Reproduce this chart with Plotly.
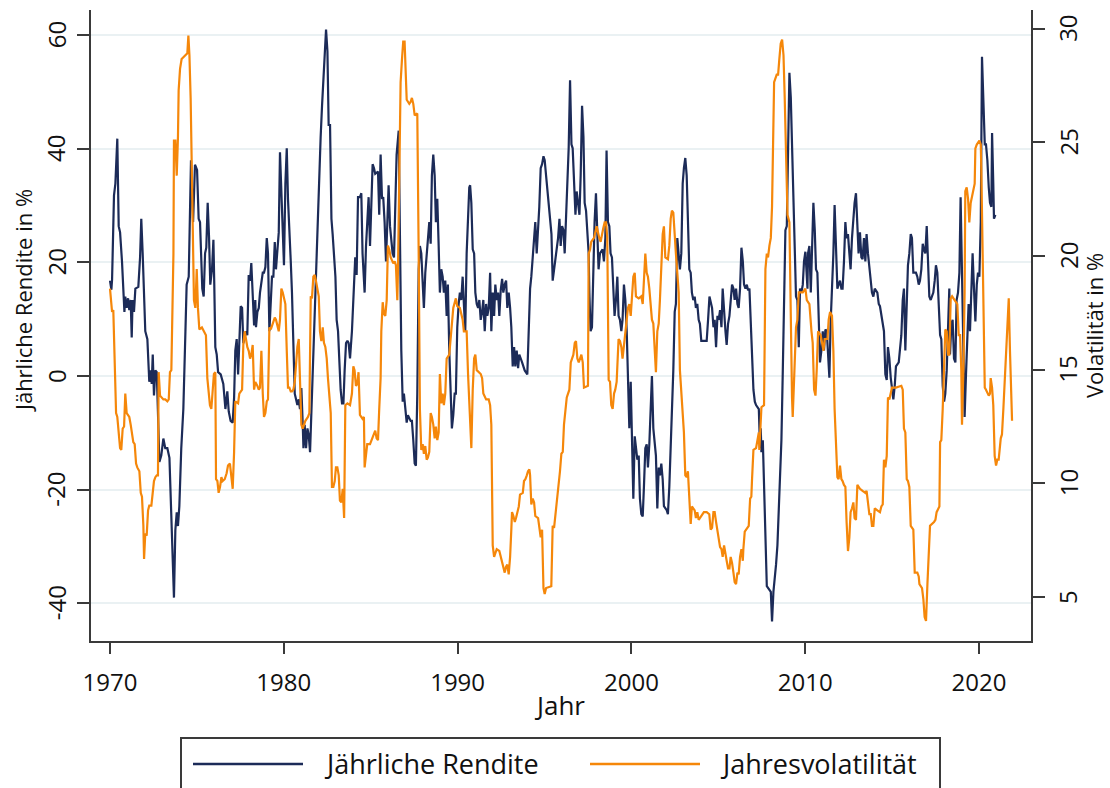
import plotly.graph_objects as go

# Jährliche Rendite (in %), Monatswerte als Dezimaljahr
rendite_jahr = [
    1970.00, 1970.08, 1970.12, 1970.23, 1970.31, 1970.42, 1970.50, 1970.58, 1970.69, 1970.77,
    1970.83, 1970.88, 1970.96, 1971.04, 1971.11, 1971.19, 1971.25, 1971.30, 1971.38, 1971.46,
    1971.63, 1971.73, 1971.80, 1971.88, 1971.96, 1972.03, 1972.15, 1972.26, 1972.34, 1972.40,
    1972.46, 1972.53, 1972.61, 1972.69, 1972.76, 1972.84, 1972.95, 1973.07, 1973.18, 1973.30,
    1973.42, 1973.53, 1973.61, 1973.68, 1973.76, 1973.84, 1973.91, 1973.99, 1974.10, 1974.22,
    1974.34, 1974.41, 1974.53, 1974.60, 1974.66, 1974.78, 1974.89, 1975.01, 1975.10, 1975.18,
    1975.24, 1975.31, 1975.39, 1975.47, 1975.54, 1975.62, 1975.70, 1975.77, 1975.87, 1975.95,
    1976.00, 1976.06, 1976.14, 1976.22, 1976.37, 1976.52, 1976.64, 1976.75, 1976.83, 1976.90,
    1976.94, 1977.06, 1977.14, 1977.21, 1977.29, 1977.37, 1977.44, 1977.52, 1977.60, 1977.67,
    1977.83, 1977.90, 1977.98, 1978.06, 1978.13, 1978.21, 1978.29, 1978.36, 1978.40, 1978.48,
    1978.56, 1978.63, 1978.71, 1978.79, 1978.86, 1978.94, 1979.02, 1979.09, 1979.17, 1979.25,
    1979.32, 1979.40, 1979.48, 1979.55, 1979.63, 1979.71, 1979.78, 1979.86, 1979.94, 1980.01,
    1980.09, 1980.17, 1980.24, 1980.32, 1980.40, 1980.47, 1980.55, 1980.63, 1980.78, 1980.86,
    1980.93, 1981.01, 1981.09, 1981.13, 1981.20, 1981.28, 1981.36, 1981.43, 1981.51, 1981.59,
    1981.66, 1981.74, 1981.82, 1981.89, 1981.97, 1982.05, 1982.12, 1982.20, 1982.28, 1982.35,
    1982.43, 1982.51, 1982.58, 1982.66, 1982.74, 1982.81, 1982.89, 1982.97, 1983.04, 1983.12,
    1983.20, 1983.27, 1983.35, 1983.43, 1983.50, 1983.58, 1983.66, 1983.73, 1983.81, 1983.92,
    1984.04, 1984.11, 1984.19, 1984.27, 1984.38, 1984.46, 1984.53, 1984.65, 1984.73, 1984.80,
    1984.88, 1984.96, 1985.03, 1985.11, 1985.19, 1985.26, 1985.42, 1985.49, 1985.57, 1985.65,
    1985.72, 1985.80, 1985.88, 1985.95, 1986.03, 1986.11, 1986.26, 1986.34, 1986.41, 1986.49,
    1986.61, 1986.64, 1986.68, 1986.76, 1986.84, 1986.91, 1987.07, 1987.14, 1987.30, 1987.37,
    1987.45, 1987.53, 1987.60, 1987.68, 1987.76, 1987.83, 1987.91, 1987.99, 1988.06, 1988.14,
    1988.22, 1988.29, 1988.37, 1988.45, 1988.52, 1988.60, 1988.68, 1988.75, 1988.83, 1988.91,
    1988.98, 1989.06, 1989.14, 1989.21, 1989.29, 1989.37, 1989.44, 1989.52, 1989.60, 1989.67,
    1989.75, 1989.83, 1989.90, 1989.98, 1990.06, 1990.13, 1990.21, 1990.29, 1990.36, 1990.44,
    1990.52, 1990.60, 1990.67, 1990.72, 1990.79, 1990.87, 1990.95, 1991.02, 1991.10, 1991.18,
    1991.25, 1991.33, 1991.41, 1991.48, 1991.56, 1991.64, 1991.71, 1991.79, 1991.87, 1991.94,
    1992.02, 1992.10, 1992.17, 1992.25, 1992.33, 1992.40, 1992.48, 1992.56, 1992.63, 1992.71,
    1992.79, 1992.86, 1992.94, 1993.02, 1993.09, 1993.17, 1993.25, 1993.32, 1993.40, 1993.48,
    1993.55, 1993.71, 1993.86, 1994.01, 1994.09, 1994.17, 1994.24, 1994.32, 1994.40, 1994.47,
    1994.55, 1994.63, 1994.70, 1994.78, 1994.86, 1994.94, 1995.01, 1995.09, 1995.17, 1995.24,
    1995.32, 1995.40, 1995.47, 1995.55, 1995.63, 1995.70, 1995.78, 1995.86, 1995.93, 1996.01,
    1996.09, 1996.16, 1996.24, 1996.32, 1996.39, 1996.47, 1996.55, 1996.62, 1996.70, 1996.78,
    1996.85, 1997.01, 1997.08, 1997.16, 1997.24, 1997.31, 1997.39, 1997.47, 1997.54, 1997.58,
    1997.65, 1997.73, 1997.81, 1997.88, 1997.96, 1998.04, 1998.11, 1998.19, 1998.34, 1998.42,
    1998.50, 1998.57, 1998.65, 1998.73, 1998.80, 1998.88, 1998.96, 1999.03, 1999.11, 1999.19,
    1999.26, 1999.34, 1999.42, 1999.49, 1999.57, 1999.65, 1999.73, 1999.80, 1999.88, 1999.96,
    2000.03, 2000.11, 2000.19, 2000.26, 2000.34, 2000.42, 2000.49, 2000.57, 2000.65, 2000.72,
    2000.80, 2000.88, 2000.95, 2001.03, 2001.11, 2001.18, 2001.26, 2001.34, 2001.41, 2001.49,
    2001.57, 2001.64, 2001.72, 2001.80, 2001.87, 2002.03, 2002.10, 2002.18, 2002.26, 2002.33,
    2002.41, 2002.49, 2002.56, 2002.64, 2002.72, 2002.79, 2002.87, 2002.95, 2003.02, 2003.10,
    2003.18, 2003.25, 2003.33, 2003.41, 2003.48, 2003.56, 2003.64, 2003.71, 2003.79, 2003.87,
    2003.94, 2004.02, 2004.33, 2004.41, 2004.49, 2004.64, 2004.72, 2004.79, 2004.87, 2004.95,
    2005.02, 2005.10, 2005.18, 2005.25, 2005.33, 2005.41, 2005.48, 2005.56, 2005.64, 2005.71,
    2005.79, 2005.87, 2005.94, 2006.02, 2006.10, 2006.17, 2006.25, 2006.33, 2006.41, 2006.48,
    2006.56, 2006.64, 2006.71, 2006.79, 2006.87, 2006.94, 2007.02, 2007.10, 2007.17, 2007.33,
    2007.40, 2007.44, 2007.48, 2007.56, 2007.63, 2007.71, 2007.79, 2008.02, 2008.09, 2008.17,
    2008.25, 2008.32, 2008.40, 2008.48, 2008.55, 2008.63, 2008.71, 2008.78, 2008.86, 2008.94,
    2009.01, 2009.09, 2009.17, 2009.24, 2009.32, 2009.40, 2009.47, 2009.55, 2009.63, 2009.70,
    2009.78, 2009.86, 2009.93, 2010.01, 2010.13, 2010.16, 2010.24, 2010.32, 2010.39, 2010.47,
    2010.55, 2010.62, 2010.70, 2010.78, 2010.85, 2010.93, 2011.01, 2011.08, 2011.16, 2011.24,
    2011.31, 2011.39, 2011.46, 2011.54, 2011.62, 2011.69, 2011.77, 2011.85, 2011.92, 2012.00,
    2012.08, 2012.15, 2012.23, 2012.31, 2012.38, 2012.46, 2012.54, 2012.61, 2012.69, 2012.77,
    2012.84, 2012.92, 2013.00, 2013.07, 2013.15, 2013.23, 2013.30, 2013.38, 2013.46, 2013.53,
    2013.61, 2013.69, 2013.77, 2013.84, 2013.92, 2014.00, 2014.15, 2014.23, 2014.30, 2014.38,
    2014.46, 2014.53, 2014.61, 2014.69, 2014.76, 2014.84, 2014.92, 2014.99, 2015.07, 2015.15,
    2015.22, 2015.38, 2015.45, 2015.53, 2015.61, 2015.68, 2015.76, 2015.84, 2015.91, 2015.99,
    2016.07, 2016.14, 2016.22, 2016.37, 2016.45, 2016.53, 2016.60, 2016.68, 2016.76, 2016.83,
    2016.91, 2016.99, 2017.06, 2017.14, 2017.22, 2017.37, 2017.45, 2017.52, 2017.60, 2017.68,
    2017.76, 2017.83, 2017.91, 2017.99, 2018.06, 2018.14, 2018.22, 2018.29, 2018.33, 2018.41,
    2018.48, 2018.56, 2018.64, 2018.71, 2018.79, 2018.87, 2018.94, 2019.02, 2019.10, 2019.17,
    2019.25, 2019.33, 2019.40, 2019.48, 2019.56, 2019.63, 2019.71, 2019.79, 2019.87, 2019.94,
    2020.02, 2020.10, 2020.17, 2020.25, 2020.33, 2020.40, 2020.48, 2020.56, 2020.63, 2020.71,
    2020.75, 2020.82, 2020.86, 2020.94,
]
rendite = [
    16.8, 15.2, 17.0, 31.8, 33.9, 41.8, 26.4, 25.3, 20.2, 14.7,
    11.3, 14.0, 12.0, 13.7, 11.6, 13.4, 6.8, 13.4, 11.3, 15.4,
    15.7, 20.9, 27.7, 21.6, 15.4, 7.9, 6.5, -1.0, 1.0, -1.4,
    3.8, -3.4, 1.0, 0.7, -6.5, -15.1, -14.0, -11.0, -12.7, -12.7,
    -14.4, -24.3, -29.8, -39.0, -27.1, -24.0, -26.4, -22.9, -12.7, -5.8,
    7.9, 16.1, 17.5, 27.1, 38.0, 27.1, 37.2, 36.3, 27.7, 27.1,
    20.9, 15.4, 14.0, 21.6, 22.6, 30.5, 24.3, 16.1, 18.8, 24.0,
    16.1, 5.1, 3.8, 0.7, 0.3, -1.4, -5.8, -2.7, -6.2, -7.2,
    -7.9, -8.2, -3.8, 4.5, 6.5, 0.3, 6.5, 12.3, 12.0, 5.8,
    7.9, 7.2, 17.8, 16.8, 19.9, 14.7, 8.9, 13.4, 8.6, 11.3,
    12.0, 14.7, 16.1, 18.2, 18.2, 19.2, 24.3, 21.6, 7.9, 12.7,
    17.5, 17.5, 23.6, 18.8, 21.6, 25.3, 39.4, 31.8, 24.3, 19.5,
    33.9, 40.1, 31.2, 26.4, 20.2, 14.7, 6.5, -3.1, -5.1, -4.1,
    -5.8, -2.1, -8.6, -12.7, -8.6, -12.7, -9.2, -10.3, -13.4, -5.8,
    1.0, 7.9, 14.7, 21.6, 29.8, 36.6, 42.1, 47.6, 52.4, 58.6,
    61.0, 57.2, 44.2, 44.2, 27.7, 25.0, 20.9, 17.5, 9.9, 7.9,
    2.4, -2.4, -4.8, -4.8, 1.0, 5.8, 6.2, 5.8, 3.1, 7.9,
    16.1, 20.9, 17.8, 31.5, 31.5, 32.2, 21.6, 14.7, 22.9, 27.1,
    31.5, 22.9, 30.5, 37.3, 36.6, 35.6, 36.0, 28.4, 39.0, 31.2,
    31.5, 27.1, 20.2, 27.7, 33.6, 26.4, 21.6, 20.9, 29.8, 39.0,
    43.2, 34.6, 18.8, 4.5, -4.5, -3.1, -8.2, -6.9, -7.9, -7.9,
    -11.3, -15.4, -15.8, -3.1, 18.8, 22.9, 21.6, 17.5, 12.0, 18.2,
    21.6, 23.6, 27.1, 23.3, 35.3, 39.0, 35.3, 27.1, 31.2, 22.9,
    14.7, 18.8, 17.5, 14.7, 16.8, 10.6, 16.1, 4.5, -4.5, -9.2,
    -6.9, -3.1, -3.1, 8.6, 12.7, 14.7, 13.4, 17.5, 12.7, 7.9,
    21.6, 28.4, 33.2, 33.6, 30.5, 22.3, 21.6, 14.7, 12.7, 12.0,
    13.4, 9.9, 11.3, 13.4, 7.9, 12.7, 10.6, 12.0, 18.2, 7.9,
    14.7, 10.6, 16.1, 13.4, 14.7, 10.6, 15.1, 17.1, 14.7, 16.1,
    16.8, 12.0, 14.7, 12.0, 8.6, 1.7, 5.1, 1.7, 4.5, 1.4,
    3.8, 2.4, 1.0, 0.3, 7.9, 15.4, 17.5, 21.6, 25.7, 27.1,
    21.6, 25.7, 29.8, 36.6, 37.3, 38.7, 38.0, 35.3, 32.5, 29.8,
    27.7, 25.0, 16.8, 18.8, 20.2, 22.9, 24.3, 27.7, 22.9, 26.4,
    25.7, 21.6, 28.4, 32.5, 40.1, 52.1, 40.8, 40.1, 35.3, 28.4,
    32.5, 28.4, 35.3, 47.6, 42.1, 30.5, 29.1, 24.3, 21.6, 14.7,
    7.9, 8.6, 20.2, 27.1, 32.2, 24.3, 18.8, 21.6, 22.3, 20.2,
    24.3, 39.7, 27.1, 26.4, 21.6, 20.9, 14.7, 10.6, 13.4, 17.5,
    10.6, 9.9, 7.9, 9.9, 16.1, 13.4, 7.9, -0.3, -9.2, -1.0,
    -9.2, -21.6, -10.6, -12.7, -14.7, -14.0, -21.6, -24.3, -24.7, -19.5,
    -12.7, -12.0, -16.1, -12.0, -5.8, 0.0, -9.2, -12.7, -14.0, -23.3,
    -16.1, -17.5, -15.4, -18.2, -22.9, -23.6, -24.3, -19.5, -12.7, -5.8,
    1.0, 11.3, 12.7, 24.3, 21.6, 18.8, 21.6, 33.9, 36.6, 38.4,
    35.3, 28.4, 18.8, 18.2, 14.7, 13.4, 14.0, 12.0, 12.7, 9.9,
    9.2, 6.2, 6.2, 9.9, 14.0, 12.0, 8.6, 9.9, 5.1, 10.6,
    9.9, 11.6, 8.6, 15.4, 10.6, 7.9, 5.5, 9.2, 10.6, 14.0,
    16.1, 15.4, 13.4, 15.4, 12.7, 12.0, 15.4, 22.6, 20.2, 16.1,
    15.4, 16.1, 15.1, 15.4, 9.9, 5.8, -2.4, -4.5, -5.1, -5.8,
    -12.7, -9.2, -13.4, -11.3, -19.5, -29.8, -37.0, -38.0, -43.2, -38.0,
    -36.0, -33.2, -29.8, -22.9, -18.8, -11.3, 1.0, 14.7, 25.7, 26.4,
    40.1, 53.4, 49.0, 40.1, 31.2, 25.0, 14.0, 13.4, 5.1, 15.4,
    14.7, 16.1, 20.2, 21.9, 15.4, 21.6, 22.9, 14.7, 22.9, 30.5,
    25.7, 18.8, 18.2, 7.2, 2.4, 4.5, 7.9, 4.5, 8.2, 7.9,
    3.1, -0.3, 9.2, 14.7, 21.6, 30.1, 24.3, 15.4, 16.1, 16.8,
    15.4, 15.4, 20.2, 27.1, 24.3, 25.0, 21.6, 18.8, 24.3, 27.7,
    30.5, 32.2, 24.3, 21.6, 25.3, 20.9, 20.6, 24.3, 20.2, 25.0,
    21.6, 18.8, 17.5, 14.7, 14.0, 15.4, 14.7, 12.7, 12.3, 10.6,
    8.6, 7.9, 0.3, -0.7, 5.1, 3.1, -0.3, -1.7, -4.1, -1.7,
    1.7, 2.4, 5.1, 7.2, 13.4, 15.4, 4.5, 13.4, 19.5, 21.6,
    25.0, 24.3, 18.2, 18.2, 17.5, 16.1, 16.8, 18.8, 23.3, 22.3,
    21.6, 26.4, 20.2, 14.0, 13.4, 14.7, 16.8, 19.5, 18.2, 13.4,
    7.2, 6.5, -1.7, -4.5, -3.1, 1.0, 10.6, 15.4, 3.8, 9.2,
    9.9, 3.1, 2.4, 13.4, 14.7, 18.2, 31.5, 18.2, 1.0, -7.2,
    0.3, 7.9, 12.7, 7.9, 14.7, 21.6, 15.4, 9.6, 16.1, 18.2,
    17.5, 27.1, 56.2, 49.0, 40.8, 40.8, 38.0, 33.2, 30.5, 29.8,
    42.8, 33.9, 27.7, 28.4,
]

# Jahresvolatilität (in %)
vola_jahr = [
    1970.00, 1970.04, 1970.12, 1970.19, 1970.27, 1970.35, 1970.42, 1970.50, 1970.58, 1970.65,
    1970.73, 1970.81, 1970.88, 1970.96, 1971.04, 1971.11, 1971.19, 1971.27, 1971.34, 1971.42,
    1971.50, 1971.57, 1971.69, 1971.77, 1971.84, 1971.92, 1971.96, 1972.03, 1972.11, 1972.19,
    1972.26, 1972.38, 1972.46, 1972.53, 1972.61, 1972.69, 1972.76, 1972.80, 1972.88, 1972.95,
    1973.07, 1973.18, 1973.30, 1973.38, 1973.45, 1973.53, 1973.57, 1973.65, 1973.68, 1973.76,
    1973.84, 1973.91, 1973.95, 1974.03, 1974.12, 1974.22, 1974.34, 1974.45, 1974.51, 1974.57,
    1974.64, 1974.72, 1974.80, 1974.83, 1974.91, 1974.99, 1975.06, 1975.14, 1975.29, 1975.41,
    1975.52, 1975.60, 1975.68, 1975.75, 1975.83, 1975.91, 1975.98, 1976.06, 1976.10, 1976.18,
    1976.25, 1976.33, 1976.41, 1976.48, 1976.60, 1976.71, 1976.79, 1976.90, 1977.06, 1977.14,
    1977.21, 1977.37, 1977.44, 1977.60, 1977.67, 1977.75, 1977.83, 1977.90, 1977.98, 1978.06,
    1978.13, 1978.21, 1978.29, 1978.36, 1978.48, 1978.56, 1978.63, 1978.71, 1978.79, 1978.86,
    1978.94, 1979.02, 1979.09, 1979.13, 1979.17, 1979.25, 1979.32, 1979.40, 1979.48, 1979.55,
    1979.63, 1979.71, 1979.78, 1979.86, 1979.94, 1980.01, 1980.09, 1980.17, 1980.24, 1980.32,
    1980.40, 1980.47, 1980.55, 1980.63, 1980.70, 1980.78, 1980.86, 1980.93, 1981.01, 1981.09,
    1981.24, 1981.39, 1981.47, 1981.55, 1981.62, 1981.70, 1981.78, 1981.85, 1981.93, 1982.01,
    1982.08, 1982.16, 1982.24, 1982.31, 1982.39, 1982.47, 1982.54, 1982.62, 1982.70, 1982.77,
    1982.85, 1982.93, 1983.00, 1983.08, 1983.16, 1983.23, 1983.31, 1983.39, 1983.47, 1983.54,
    1983.66, 1983.81, 1983.92, 1984.00, 1984.07, 1984.15, 1984.23, 1984.30, 1984.38, 1984.53,
    1984.61, 1984.65, 1984.73, 1984.80, 1984.96, 1985.11, 1985.26, 1985.34, 1985.42, 1985.49,
    1985.57, 1985.61, 1985.69, 1985.76, 1985.84, 1985.92, 1985.99, 1986.07, 1986.15, 1986.30,
    1986.38, 1986.45, 1986.53, 1986.57, 1986.64, 1986.72, 1986.80, 1986.87, 1986.95, 1987.03,
    1987.07, 1987.22, 1987.30, 1987.37, 1987.45, 1987.53, 1987.68, 1987.76, 1987.83, 1987.91,
    1987.99, 1988.06, 1988.14, 1988.22, 1988.29, 1988.37, 1988.45, 1988.52, 1988.60, 1988.68,
    1988.75, 1988.83, 1988.91, 1988.98, 1989.06, 1989.14, 1989.21, 1989.29, 1989.37, 1989.52,
    1989.60, 1989.67, 1989.75, 1989.90, 1989.98, 1990.13, 1990.29, 1990.36, 1990.52, 1990.60,
    1990.67, 1990.72, 1990.79, 1990.87, 1990.95, 1991.02, 1991.10, 1991.33, 1991.41, 1991.48,
    1991.64, 1991.79, 1991.87, 1991.94, 1992.02, 1992.10, 1992.25, 1992.40, 1992.48, 1992.56,
    1992.63, 1992.71, 1992.79, 1992.86, 1992.94, 1993.02, 1993.09, 1993.13, 1993.21, 1993.29,
    1993.36, 1993.44, 1993.52, 1993.59, 1993.75, 1993.82, 1993.90, 1993.98, 1994.05, 1994.13,
    1994.17, 1994.24, 1994.32, 1994.40, 1994.47, 1994.63, 1994.70, 1994.78, 1994.86, 1994.94,
    1995.01, 1995.09, 1995.39, 1995.47, 1995.55, 1995.63, 1995.70, 1995.82, 1995.89, 1995.97,
    1996.05, 1996.12, 1996.20, 1996.28, 1996.43, 1996.51, 1996.66, 1996.74, 1996.81, 1996.89,
    1996.97, 1997.12, 1997.20, 1997.27, 1997.50, 1997.54, 1997.62, 1997.69, 1997.85, 1998.00,
    1998.15, 1998.23, 1998.38, 1998.46, 1998.54, 1998.61, 1998.69, 1998.77, 1998.84, 1998.92,
    1999.00, 1999.07, 1999.15, 1999.19, 1999.26, 1999.34, 1999.42, 1999.49, 1999.57, 1999.65,
    1999.73, 1999.80, 1999.88, 1999.96, 2000.03, 2000.11, 2000.19, 2000.26, 2000.42, 2000.57,
    2000.65, 2000.72, 2000.80, 2000.88, 2000.95, 2001.03, 2001.11, 2001.18, 2001.26, 2001.34,
    2001.41, 2001.49, 2001.57, 2001.64, 2001.72, 2001.80, 2001.87, 2001.95, 2002.10, 2002.18,
    2002.26, 2002.33, 2002.41, 2002.49, 2002.56, 2002.64, 2002.72, 2002.79, 2002.87, 2002.95,
    2003.02, 2003.10, 2003.18, 2003.25, 2003.33, 2003.41, 2003.48, 2003.64, 2003.71, 2003.79,
    2003.87, 2004.02, 2004.17, 2004.33, 2004.48, 2004.56, 2004.64, 2004.72, 2004.79, 2004.87,
    2004.95, 2005.02, 2005.10, 2005.18, 2005.25, 2005.33, 2005.41, 2005.48, 2005.56, 2005.64,
    2005.71, 2005.79, 2005.87, 2005.94, 2006.02, 2006.10, 2006.17, 2006.25, 2006.33, 2006.41,
    2006.44, 2006.52, 2006.67, 2006.75, 2006.83, 2006.90, 2006.94, 2007.02, 2007.17, 2007.25,
    2007.33, 2007.36, 2007.40, 2007.48, 2007.63, 2007.71, 2007.79, 2007.86, 2007.94, 2008.02,
    2008.09, 2008.17, 2008.21, 2008.36, 2008.44, 2008.51, 2008.59, 2008.67, 2008.75, 2008.82,
    2008.90, 2008.98, 2009.09, 2009.17, 2009.24, 2009.28, 2009.40, 2009.47, 2009.55, 2009.63,
    2009.86, 2010.01, 2010.09, 2010.24, 2010.36, 2010.43, 2010.51, 2010.59, 2010.66, 2010.74,
    2010.89, 2011.05, 2011.12, 2011.28, 2011.35, 2011.43, 2011.54, 2011.62, 2011.69, 2011.77,
    2011.85, 2011.92, 2012.00, 2012.08, 2012.15, 2012.23, 2012.31, 2012.38, 2012.46, 2012.54,
    2012.61, 2012.69, 2012.77, 2012.84, 2012.92, 2013.00, 2013.15, 2013.30, 2013.46, 2013.53,
    2013.61, 2013.69, 2013.77, 2013.84, 2013.92, 2014.00, 2014.15, 2014.30, 2014.38, 2014.46,
    2014.53, 2014.61, 2014.69, 2014.76, 2014.84, 2014.99, 2015.22, 2015.53, 2015.61, 2015.68,
    2015.76, 2015.84, 2015.91, 2015.99, 2016.07, 2016.22, 2016.30, 2016.45, 2016.53, 2016.57,
    2016.72, 2016.80, 2016.87, 2016.95, 2017.03, 2017.10, 2017.18, 2017.41, 2017.49, 2017.56,
    2017.72, 2017.76, 2017.83, 2017.91, 2017.99, 2018.06, 2018.14, 2018.22, 2018.29, 2018.37,
    2018.45, 2018.60, 2018.75, 2018.83, 2018.91, 2018.98, 2019.02, 2019.10, 2019.17, 2019.21,
    2019.29, 2019.37, 2019.44, 2019.52, 2019.60, 2019.67, 2019.75, 2019.79, 2019.87, 2020.02,
    2020.10, 2020.13, 2020.21, 2020.29, 2020.33, 2020.40, 2020.56, 2020.63, 2020.67, 2020.75,
    2020.82, 2020.90, 2020.98, 2021.05, 2021.13, 2021.25, 2021.32, 2021.40, 2021.48, 2021.55,
    2021.63, 2021.71, 2021.78, 2021.86, 2021.90,
]
vola = [
    18.57, 18.06, 17.54, 17.63, 15.83, 13.09, 12.92, 12.24, 11.55, 11.47,
    12.41, 12.50, 13.95, 13.09, 13.01, 12.92, 12.58, 12.24, 11.81, 11.72,
    10.87, 10.70, 10.53, 9.58, 9.41, 8.13, 6.67, 7.79, 7.70, 8.81,
    9.02, 9.02, 9.58, 10.10, 10.27, 10.35, 10.35, 14.89, 13.86, 13.78,
    13.69, 13.69, 13.61, 13.69, 14.89, 14.98, 16.69, 20.11, 25.08, 25.08,
    23.54, 25.25, 27.30, 28.24, 28.67, 28.76, 28.84, 28.93, 29.70, 28.84,
    26.96, 23.88, 20.11, 18.06, 17.72, 19.43, 17.72, 16.77, 16.86, 16.69,
    16.52, 14.63, 14.12, 13.44, 13.27, 13.95, 14.81, 14.89, 10.18, 10.10,
    9.58, 9.84, 10.27, 10.10, 10.18, 10.44, 10.78, 10.87, 9.76, 11.38,
    13.61, 13.52, 13.95, 14.12, 16.09, 16.69, 16.18, 16.00, 15.83, 15.49,
    15.66, 16.09, 14.12, 14.46, 14.29, 14.12, 14.21, 15.83, 13.95, 12.92,
    13.09, 13.61, 13.69, 16.18, 16.86, 16.77, 16.95, 17.20, 17.29, 17.20,
    16.86, 16.69, 17.20, 18.57, 18.40, 18.14, 17.89, 15.83, 14.21, 14.21,
    14.04, 14.04, 14.12, 14.46, 15.32, 16.00, 16.35, 14.46, 12.58, 12.41,
    12.75, 12.92, 13.09, 18.23, 18.14, 19.09, 19.17, 18.91, 18.57, 18.23,
    16.69, 16.26, 16.86, 16.18, 16.00, 15.49, 14.63, 13.78, 13.09, 9.84,
    9.84, 10.10, 10.70, 10.70, 10.35, 9.24, 9.16, 9.76, 8.47, 13.44,
    13.52, 13.44, 13.95, 15.15, 14.98, 14.29, 14.38, 14.89, 13.01, 12.84,
    12.92, 10.70, 11.21, 11.72, 11.72, 12.07, 12.32, 11.98, 11.90, 13.27,
    14.63, 16.69, 17.97, 17.46, 17.37, 18.06, 20.46, 20.28, 19.94, 19.68,
    19.77, 19.60, 18.06, 19.43, 23.54, 27.65, 28.67, 29.44, 29.44, 28.16,
    26.88, 26.70, 26.79, 26.96, 26.70, 26.19, 26.28, 20.11, 13.27, 11.47,
    11.72, 11.30, 11.64, 11.04, 11.13, 11.38, 13.09, 12.92, 12.58, 11.98,
    12.50, 11.90, 12.24, 14.81, 13.52, 13.95, 13.44, 13.95, 15.49, 15.66,
    16.52, 16.86, 17.72, 18.14, 17.80, 17.72, 17.20, 16.69, 16.69, 14.81,
    13.27, 12.41, 11.55, 14.12, 15.49, 15.66, 14.98, 14.81, 14.63, 13.95,
    13.69, 13.69, 13.44, 12.58, 7.27, 6.76, 7.10, 7.02, 6.76, 6.50,
    6.25, 6.07, 6.33, 6.42, 5.99, 6.76, 7.96, 8.73, 8.56, 8.30,
    8.47, 8.81, 8.98, 9.50, 9.58, 10.10, 10.18, 10.35, 10.53, 10.61,
    10.35, 9.07, 9.33, 9.16, 8.56, 8.47, 7.96, 7.62, 7.96, 5.39,
    5.13, 5.39, 5.47, 8.13, 8.04, 8.64, 8.90, 10.01, 10.53, 11.30,
    11.38, 12.58, 13.27, 13.78, 14.12, 15.32, 15.66, 16.18, 16.26, 15.49,
    15.32, 15.66, 15.32, 14.21, 14.29, 20.11, 20.28, 20.63, 20.80, 21.31,
    20.80, 20.63, 21.23, 21.48, 21.48, 20.80, 14.55, 14.46, 13.44, 13.27,
    13.95, 14.12, 14.46, 15.49, 16.35, 16.26, 16.00, 15.49, 16.18, 16.86,
    17.20, 17.72, 17.89, 17.37, 18.40, 19.09, 19.26, 18.23, 18.14, 18.23,
    17.89, 18.74, 20.11, 19.26, 19.09, 18.57, 17.89, 17.20, 17.03, 15.49,
    14.89, 16.69, 17.03, 18.06, 19.26, 20.97, 21.31, 19.94, 19.86, 20.46,
    21.65, 22.00, 21.91, 21.14, 20.11, 19.26, 18.40, 14.98, 13.95, 13.44,
    12.24, 10.35, 10.27, 10.53, 9.33, 8.21, 8.98, 8.81, 8.47, 8.73,
    8.39, 8.56, 8.73, 8.73, 8.64, 7.96, 8.04, 8.73, 8.73, 8.30,
    7.87, 7.62, 7.19, 7.10, 6.76, 7.27, 6.76, 6.59, 6.25, 6.25,
    6.76, 6.50, 6.07, 5.65, 5.56, 6.07, 5.99, 6.76, 7.10, 6.59,
    7.10, 7.87, 8.04, 8.13, 9.33, 9.41, 10.18, 11.47, 11.55, 11.90,
    12.24, 11.47, 12.41, 13.35, 13.44, 19.43, 20.11, 19.94, 20.46, 20.80,
    22.17, 25.25, 27.65, 27.99, 27.99, 28.67, 29.36, 29.53, 28.84, 26.96,
    24.39, 21.82, 21.48, 16.69, 13.78, 12.92, 15.83, 16.86, 17.20, 18.40,
    18.40, 18.57, 18.06, 17.89, 16.69, 16.18, 14.12, 13.86, 14.98, 16.69,
    16.52, 15.83, 16.35, 16.35, 17.20, 17.54, 17.37, 15.83, 13.27, 11.55,
    10.27, 10.18, 10.78, 10.18, 10.10, 9.93, 9.84, 8.30, 7.02, 7.62,
    8.73, 8.90, 9.16, 8.47, 8.39, 9.93, 9.76, 9.67, 9.58, 9.67,
    9.16, 8.64, 8.64, 8.13, 8.13, 8.90, 8.81, 8.73, 8.98, 9.07,
    11.04, 10.70, 11.21, 13.78, 13.69, 14.21, 14.21, 14.29, 14.12, 12.41,
    12.24, 10.18, 10.10, 9.84, 8.13, 7.96, 6.07, 6.07, 5.90, 5.56,
    5.39, 4.88, 4.11, 3.94, 5.56, 6.76, 8.13, 8.30, 8.39, 8.73,
    8.98, 11.81, 11.90, 13.27, 14.98, 16.77, 16.69, 15.66, 15.66, 18.14,
    18.23, 18.06, 17.89, 16.52, 16.52, 14.98, 12.58, 14.98, 18.40, 22.85,
    23.02, 22.51, 21.48, 22.34, 22.60, 22.85, 23.19, 24.74, 24.91, 25.08,
    24.91, 23.88, 20.11, 16.69, 14.21, 14.12, 13.86, 13.95, 14.63, 14.21,
    13.44, 11.21, 10.78, 11.04, 11.04, 11.98, 12.15, 13.27, 14.63, 15.66,
    16.69, 18.14, 15.83, 13.27, 12.75,
]

jahr_ticks = [1970, 1980, 1990, 2000, 2010, 2020]
rendite_ticks = [-40, -20, 0, 20, 40, 60]
vola_ticks = [5, 10, 15, 20, 25, 30]

NAVY = "#1c2b58"
ORANGE = "#f5870a"
AXIS = "#3a3a3a"
GRID = "#eaf1f3"
TEXT = "#111111"
FONT = "Open Sans"

# Plotbereich in Pixeln (Seite 1110 x 788)
W, H = 1110, 788
L, R, T, B = 91, 1031, 10, 641


def px_x(px):
    return (px - L) / (R - L)


def px_y(py):
    return (B - py) / (B - T)


fig = go.Figure()
fig.add_trace(go.Scatter(
    x=rendite_jahr, y=rendite, mode="lines", name="Jährliche Rendite",
    line=dict(color=NAVY, width=2.2), showlegend=False,
))
fig.add_trace(go.Scatter(
    x=vola_jahr, y=vola, mode="lines", name="Jahresvolatilität",
    line=dict(color=ORANGE, width=2.2), yaxis="y2", showlegend=False,
))

axis_common = dict(
    showline=True, linecolor=AXIS, linewidth=2,
    ticks="outside", tickcolor=AXIS, tickwidth=2,
    zeroline=False, automargin=False,
    tickfont=dict(family=FONT, size=24, color=TEXT),
)

annotations = []

# senkrecht gesetzte Achsenbeschriftungen der beiden y-Achsen
for v in rendite_ticks:
    annotations.append(dict(
        text=str(v), x=px_x(56), y=v, xref="paper", yref="y",
        textangle=-90, xanchor="center", yanchor="middle", showarrow=False,
        borderpad=0, font=dict(family=FONT, size=24, color=TEXT)))
for v in vola_ticks:
    annotations.append(dict(
        text=str(v), x=px_x(1068), y=v, xref="paper", yref="y2",
        textangle=-90, xanchor="center", yanchor="middle", showarrow=False,
        borderpad=0, font=dict(family=FONT, size=24, color=TEXT)))

# Achsentitel links und rechts
annotations.append(dict(
    text="Jährliche Rendite in %", x=px_x(23), y=px_y(301), xref="paper", yref="paper",
    textangle=-90, xanchor="center", yanchor="middle", showarrow=False,
    borderpad=0, font=dict(family=FONT, size=22, color=TEXT)))
annotations.append(dict(
    text="Volatilität in %", x=px_x(1094), y=px_y(326), xref="paper", yref="paper",
    textangle=-90, xanchor="center", yanchor="middle", showarrow=False,
    borderpad=0, font=dict(family=FONT, size=22, color=TEXT)))

# Legende: Rahmen, Linienmuster und Beschriftungen unterhalb des Plots
legend_shapes = [
    dict(type="rect", xref="paper", yref="paper",
         x0=px_x(181), x1=px_x(940), y0=px_y(738), y1=px_y(800),
         line=dict(color=AXIS, width=2), fillcolor="white", layer="below"),
    dict(type="line", xref="paper", yref="paper",
         x0=px_x(193), x1=px_x(303), y0=px_y(764), y1=px_y(764),
         line=dict(color=NAVY, width=2.5)),
    dict(type="line", xref="paper", yref="paper",
         x0=px_x(590), x1=px_x(700), y0=px_y(764), y1=px_y(764),
         line=dict(color=ORANGE, width=2.5)),
]
for text, xpos in (("Jährliche Rendite", 322), ("Jahresvolatilität", 718)):
    annotations.append(dict(
        text=text, x=px_x(xpos), y=px_y(763), xref="paper", yref="paper",
        xanchor="left", yanchor="middle", showarrow=False,
        font=dict(family=FONT, size=27, color=TEXT)))

fig.update_layout(
    width=W, height=H, autosize=False,
    margin=dict(l=L, r=W - R, t=T, b=H - B, pad=0),
    paper_bgcolor="white", plot_bgcolor="white",
    font=dict(family=FONT, size=24, color=TEXT),
    showlegend=False,
    shapes=legend_shapes,
    annotations=annotations,
    xaxis=dict(
        range=[1968.907, 2022.99], tickvals=jahr_ticks, showgrid=False,
        ticklen=11, ticklabelstandoff=8,
        title=dict(text="Jahr", standoff=0, font=dict(family=FONT, size=26, color=TEXT)),
        **axis_common,
    ),
    yaxis=dict(
        range=[-46.64, 64.45], tickvals=rendite_ticks, showticklabels=False,
        showgrid=True, gridcolor=GRID, gridwidth=2, ticklen=12,
        **axis_common,
    ),
    yaxis2=dict(
        overlaying="y", side="right", showticklabels=False,
        range=[3.06, 30.83], tickvals=vola_ticks, showgrid=False, ticklen=12,
        **axis_common,
    ),
)

fig.write_html("out.html")
